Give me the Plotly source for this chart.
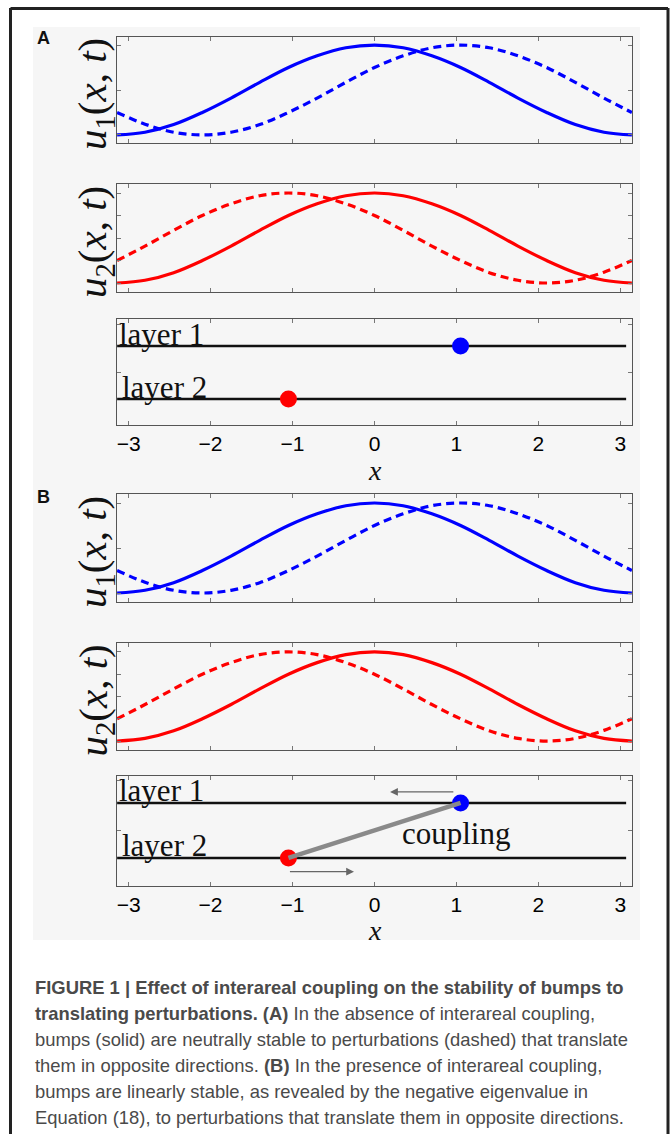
import plotly.graph_objects as go

W, H = 672, 1134

# ---------------- data ----------------
x_pts = [-3.14, -2.8, -2.45, -2.1, -1.75, -1.4, -1.05, -0.7, -0.35, 0.0,
         0.35, 0.7, 1.05, 1.4, 1.75, 2.1, 2.45, 2.8, 3.14]
bump_solid = [-1.00, -0.94, -0.77, -0.50, -0.18, 0.17, 0.50, 0.76, 0.94, 1.00,
              0.94, 0.76, 0.50, 0.17, -0.18, -0.50, -0.77, -0.94, -1.00]
u1_dashed = [-0.50, -0.76, -0.94, -1.00, -0.94, -0.77, -0.50, -0.18, 0.17, 0.50,
             0.76, 0.94, 1.00, 0.94, 0.76, 0.50, 0.17, -0.18, -0.50]
u2_dashed = [-0.50, -0.18, 0.17, 0.50, 0.76, 0.94, 1.00, 0.94, 0.76, 0.50,
             0.17, -0.18, -0.50, -0.77, -0.94, -1.00, -0.94, -0.76, -0.50]

layer_line_x = [-3.14, 3.07]
layer_names = ["layer 1", "layer 2"]
layer_y = [1, 0]
bump_pos_x = [1.05, -1.05]          # layer 1 (blue), layer 2 (red)
x_ticks = [-3, -2, -1, 0, 1, 2, 3]

arrow_tail_x = [0.98, -1.05]
arrow_head_x = [0.19, -0.25]
arrow_y = [1.2, -0.25]

caption_lines = [
    "<b>FIGURE 1 | Effect of interareal coupling on the stability of bumps to</b>",
    "<b>translating perturbations. (A)</b> In the absence of interareal coupling,",
    "bumps (solid) are neutrally stable to perturbations (dashed) that translate",
    "them in opposite directions. <b>(B)</b> In the presence of interareal coupling,",
    "bumps are linearly stable, as revealed by the negative eigenvalue in",
    "Equation (18), to perturbations that translate them in opposite directions.",
]

# ---------------- layout helpers ----------------
def fx(p):
    return p / W

def fy(p):
    return 1 - p / H

BLUE = "#0000ff"
RED = "#ff0000"
SERIF = "Liberation Serif, Times New Roman, serif"
SANS = "Liberation Sans, Arial, sans-serif"

# panel boxes in pixels: (top, bottom)
panels = [(37, 143), (184, 292), (319, 425), (494, 602), (643, 750), (776, 886)]
x_left, x_right = 117, 632

fig = go.Figure()

def add_curves(ax_idx, color, dashed_vals):
    xa = "x" if ax_idx == 1 else f"x{ax_idx}"
    ya = "y" if ax_idx == 1 else f"y{ax_idx}"
    fig.add_trace(go.Scatter(x=x_pts, y=dashed_vals, mode="lines", xaxis=xa, yaxis=ya,
                             line=dict(color=color, width=3.2, dash="8px,5px", shape="spline"),
                             showlegend=False, hoverinfo="skip"))
    fig.add_trace(go.Scatter(x=x_pts, y=bump_solid, mode="lines", xaxis=xa, yaxis=ya,
                             line=dict(color=color, width=3.2, shape="spline"),
                             showlegend=False, hoverinfo="skip"))

def add_layers(ax_idx, coupling):
    xa = f"x{ax_idx}"
    ya = f"y{ax_idx}"
    for ly in layer_y:
        fig.add_trace(go.Scatter(x=layer_line_x, y=[ly, ly], mode="lines", xaxis=xa, yaxis=ya,
                                 line=dict(color="#111111", width=2.5),
                                 showlegend=False, hoverinfo="skip"))
    fig.add_trace(go.Scatter(x=[bump_pos_x[0]], y=[layer_y[0]], mode="markers", xaxis=xa, yaxis=ya,
                             marker=dict(color=BLUE, size=17, line=dict(width=0)),
                             showlegend=False, hoverinfo="skip"))
    fig.add_trace(go.Scatter(x=[bump_pos_x[1]], y=[layer_y[1]], mode="markers", xaxis=xa, yaxis=ya,
                             marker=dict(color=RED, size=17, line=dict(width=0)),
                             showlegend=False, hoverinfo="skip"))
    if coupling:
        fig.add_trace(go.Scatter(x=bump_pos_x, y=layer_y, mode="lines", xaxis=xa, yaxis=ya,
                                 line=dict(color="#8a8a8a", width=4.5),
                                 showlegend=False, hoverinfo="skip"))

add_curves(1, BLUE, u1_dashed)
add_curves(2, RED, u2_dashed)
add_layers(3, False)
add_curves(4, BLUE, u1_dashed)
add_curves(5, RED, u2_dashed)
add_layers(6, True)

yranges = [[-1.18, 1.18], [-1.2, 1.2], [-0.49, 1.51], [-1.2, 1.2], [-1.2, 1.2], [-0.51, 1.49]]
ytickvals = [[-1, 0, 1], [-1, -0.5, 0, 0.5, 1], [0.5, 1.4], [-1, 0, 1], [-1, -0.5, 0, 0.5, 1], [0.5, 1.4]]

axis_common = dict(showline=True, linecolor="#555555", linewidth=1, mirror="ticks",
                   ticks="inside", ticklen=4, tickcolor="#777777", showgrid=False,
                   zeroline=False, fixedrange=True)

layout_axes = {}
for i, (top, bot) in enumerate(panels, start=1):
    xk = "xaxis" if i == 1 else f"xaxis{i}"
    yk = "yaxis" if i == 1 else f"yaxis{i}"
    show_x = i in (3, 6)
    layout_axes[xk] = dict(axis_common, domain=[fx(x_left), fx(x_right)], range=[-3.1416, 3.1416],
                           tickvals=x_ticks, showticklabels=show_x,
                           tickfont=dict(family=SANS, size=21, color="#000000"),
                           anchor="y" if i == 1 else f"y{i}")
    layout_axes[yk] = dict(axis_common, domain=[fy(bot), fy(top)], range=yranges[i - 1],
                           tickvals=ytickvals[i - 1], showticklabels=False,
                           anchor="x" if i == 1 else f"x{i}")

fig.update_layout(**layout_axes)

annotations = []

# y-axis labels
ylabels = ["<i>u</i><sub>1</sub>(<i>x</i>, <i>t</i>)", "<i>u</i><sub>2</sub>(<i>x</i>, <i>t</i>)"]
for i, (top, bot) in enumerate(panels, start=1):
    if i in (3, 6):
        continue
    lab = ylabels[0] if i in (1, 4) else ylabels[1]
    annotations.append(dict(text=lab, xref="paper", yref="paper", x=fx(95), y=fy((top + bot) / 2 + 4),
                            xanchor="center", yanchor="middle", textangle=-90, showarrow=False,
                            font=dict(family=SERIF, size=41, color="#111111")))

# x-axis titles
for i, ypx in ((3, 470), (6, 930)):
    annotations.append(dict(text="<i>x</i>", xref=f"x{i}", yref="paper", x=0, y=fy(ypx),
                            xanchor="center", yanchor="middle", showarrow=False,
                            font=dict(family=SERIF, size=28, color="#111111")))

# layer labels
for i in (3, 6):
    for name, ly, xs in zip(layer_names, layer_y, [-3.14, -3.1]):
        annotations.append(dict(text=name, xref=f"x{i}", yref=f"y{i}", x=xs, y=ly + 0.22,
                                xanchor="left", yanchor="middle", showarrow=False,
                                font=dict(family=SERIF, size=31, color="#111111")))

annotations.append(dict(text="coupling", xref="x6", yref="y6", x=1.0, y=0.44,
                        xanchor="center", yanchor="middle", showarrow=False,
                        font=dict(family=SERIF, size=31, color="#111111")))

for tx, hx, ay in zip(arrow_tail_x, arrow_head_x, arrow_y):
    annotations.append(dict(text="", xref="x6", yref="y6", x=hx, y=ay,
                            axref="x6", ayref="y6", ax=tx, ay=ay,
                            showarrow=True, arrowhead=2, arrowsize=1.2, arrowwidth=1.3,
                            arrowcolor="#666666"))

# panel letters
for lab, ypx in (("A", 38), ("B", 497)):
    annotations.append(dict(text=f"<b>{lab}</b>", xref="paper", yref="paper", x=fx(43), y=fy(ypx),
                            xanchor="center", yanchor="middle", showarrow=False,
                            font=dict(family=SANS, size=18, color="#111111")))

# caption
for k, line in enumerate(caption_lines):
    annotations.append(dict(text=line, xref="paper", yref="paper", x=fx(33), y=fy(987 + 26 * k),
                            xanchor="left", yanchor="middle", showarrow=False, align="left",
                            font=dict(family="Liberation Sans, Arial, sans-serif", size=18.4, color="#4a4a4a")))

shapes = [
    dict(type="rect", xref="paper", yref="paper", x0=fx(33), x1=fx(640), y0=fy(940), y1=fy(27),
         fillcolor="#f6f6f6", line=dict(width=0), layer="below"),
    dict(type="line", xref="paper", yref="paper", x0=fx(10.5), x1=fx(10.5), y0=-0.01, y1=fy(8),
         line=dict(color="#222222", width=3)),
    dict(type="line", xref="paper", yref="paper", x0=fx(668), x1=fx(668), y0=-0.01, y1=fy(8),
         line=dict(color="#222222", width=3)),
    dict(type="line", xref="paper", yref="paper", x0=fx(10.5), x1=fx(668), y0=fy(8.5), y1=fy(8.5),
         line=dict(color="#222222", width=3)),
]

fig.update_layout(width=W, height=H, margin=dict(l=0, r=0, t=0, b=0),
                  paper_bgcolor="white", plot_bgcolor="#fcfcfc",
                  annotations=annotations, shapes=shapes, showlegend=False)

fig.write_html("out.html", config={"displayModeBar": False})
